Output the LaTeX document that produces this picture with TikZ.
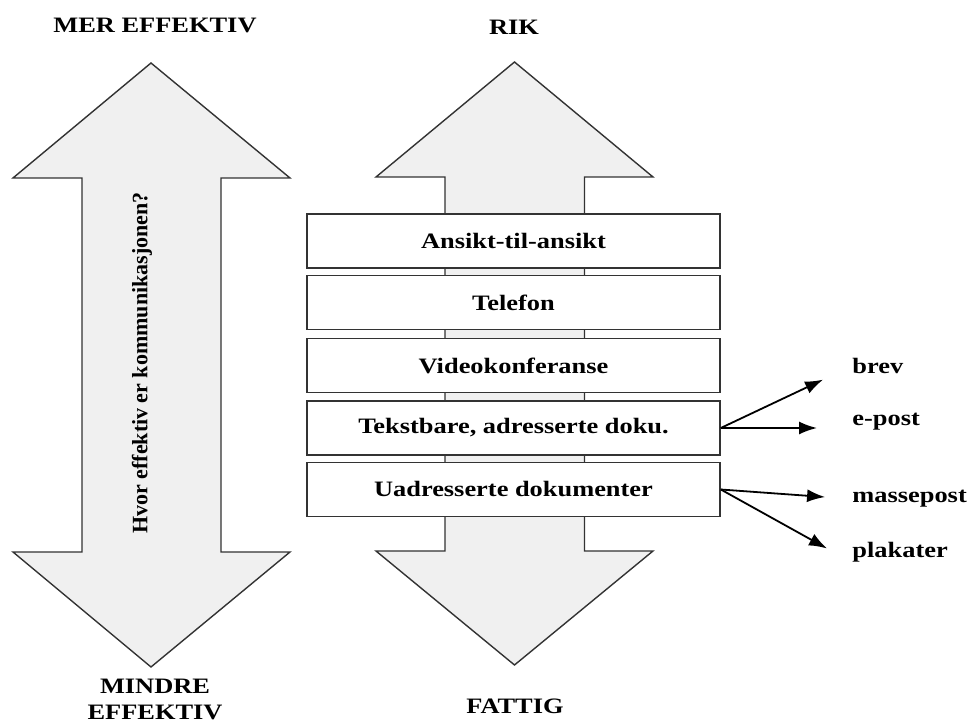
\documentclass[tikz,border=0pt]{standalone}
\usepackage{fontspec}
\setmainfont{Liberation Serif}[FakeStretch=1.2]
\newfontfamily\vertfont{Liberation Serif}
\usetikzlibrary{arrows.meta}

\begin{document}
\begin{tikzpicture}[x=0.5pt,y=-0.5pt,>={Latex[length=9pt,width=6.5pt]},
  big/.style={draw=black!80,line width=0.7pt,fill=black!6},
  lag/.style={draw=black!80,line width=0.8pt,fill=white,minimum width=206.5pt,
    minimum height=27pt,inner sep=0pt,font=\bfseries\fontsize{11}{13}\selectfont},
  lbl/.style={inner sep=0pt,font=\bfseries\fontsize{11}{13}\selectfont},
  pil/.style={->,draw=black,line width=0.9pt}]
  \useasboundingbox (0,0) rectangle (970,726);

  % the two double arrows
  \draw[big] (151,63) -- (290,178) -- (221,178) -- (221,552) -- (290,552)
    -- (151,667) -- (13,552) -- (82,552) -- (82,178) -- (13,178) -- cycle;
  \draw[big] (514.5,62) -- (653,177) -- (584.5,177) -- (584.5,551) -- (653,551)
    -- (514.5,665) -- (376,551) -- (445,551) -- (445,177) -- (376,177) -- cycle;

  \node[lbl,rotate=90,font=\vertfont\bfseries\fontsize{11}{13}\selectfont] (q) at (142,363)
    {Hvor effektiv er kommunikasjonen?};

  \node[lbl] (mer) at (155,25) {MER EFFEKTIV};
  \node[lbl,align=center] (mindre) at (155,699) {MINDRE\\EFFEKTIV};
  \node[lbl] (rik) at (514,27) {RIK};
  \node[lbl] (fattig) at (515,706) {FATTIG};

  % media boxes
  \node[lag] (b1) at (513.5,241) {Ansikt-til-ansikt};
  \node[lag] (b2) at (513.5,302.5) {Telefon};
  \node[lag] (b3) at (513.5,365.5) {Videokonferanse};
  \node[lag] (b4) at (513.5,428) {Tekstbare, adresserte doku.};
  \node[lag] (b5) at (513.5,489.5) {Uadresserte dokumenter};

  \node[lbl,anchor=west] (brev) at (852,366) {brev};
  \node[lbl,anchor=west] (epost) at (852,422) {e-post};
  \node[lbl,anchor=west] (masse) at (852,499) {massepost};
  \node[lbl,anchor=west] (plakat) at (852,552) {plakater};

  \draw[pil,shorten >=16pt] (b4.east) -> (brev.west);
  \draw[pil,shorten >=17.5pt] (b4.east) -> (b4.east -| epost.west);
  \draw[pil,shorten >=13.5pt] (b5.east) -> (masse.west);
  \draw[pil,shorten >=14.3pt] (b5.east) -> (plakat.south west);
\end{tikzpicture}
\end{document}
